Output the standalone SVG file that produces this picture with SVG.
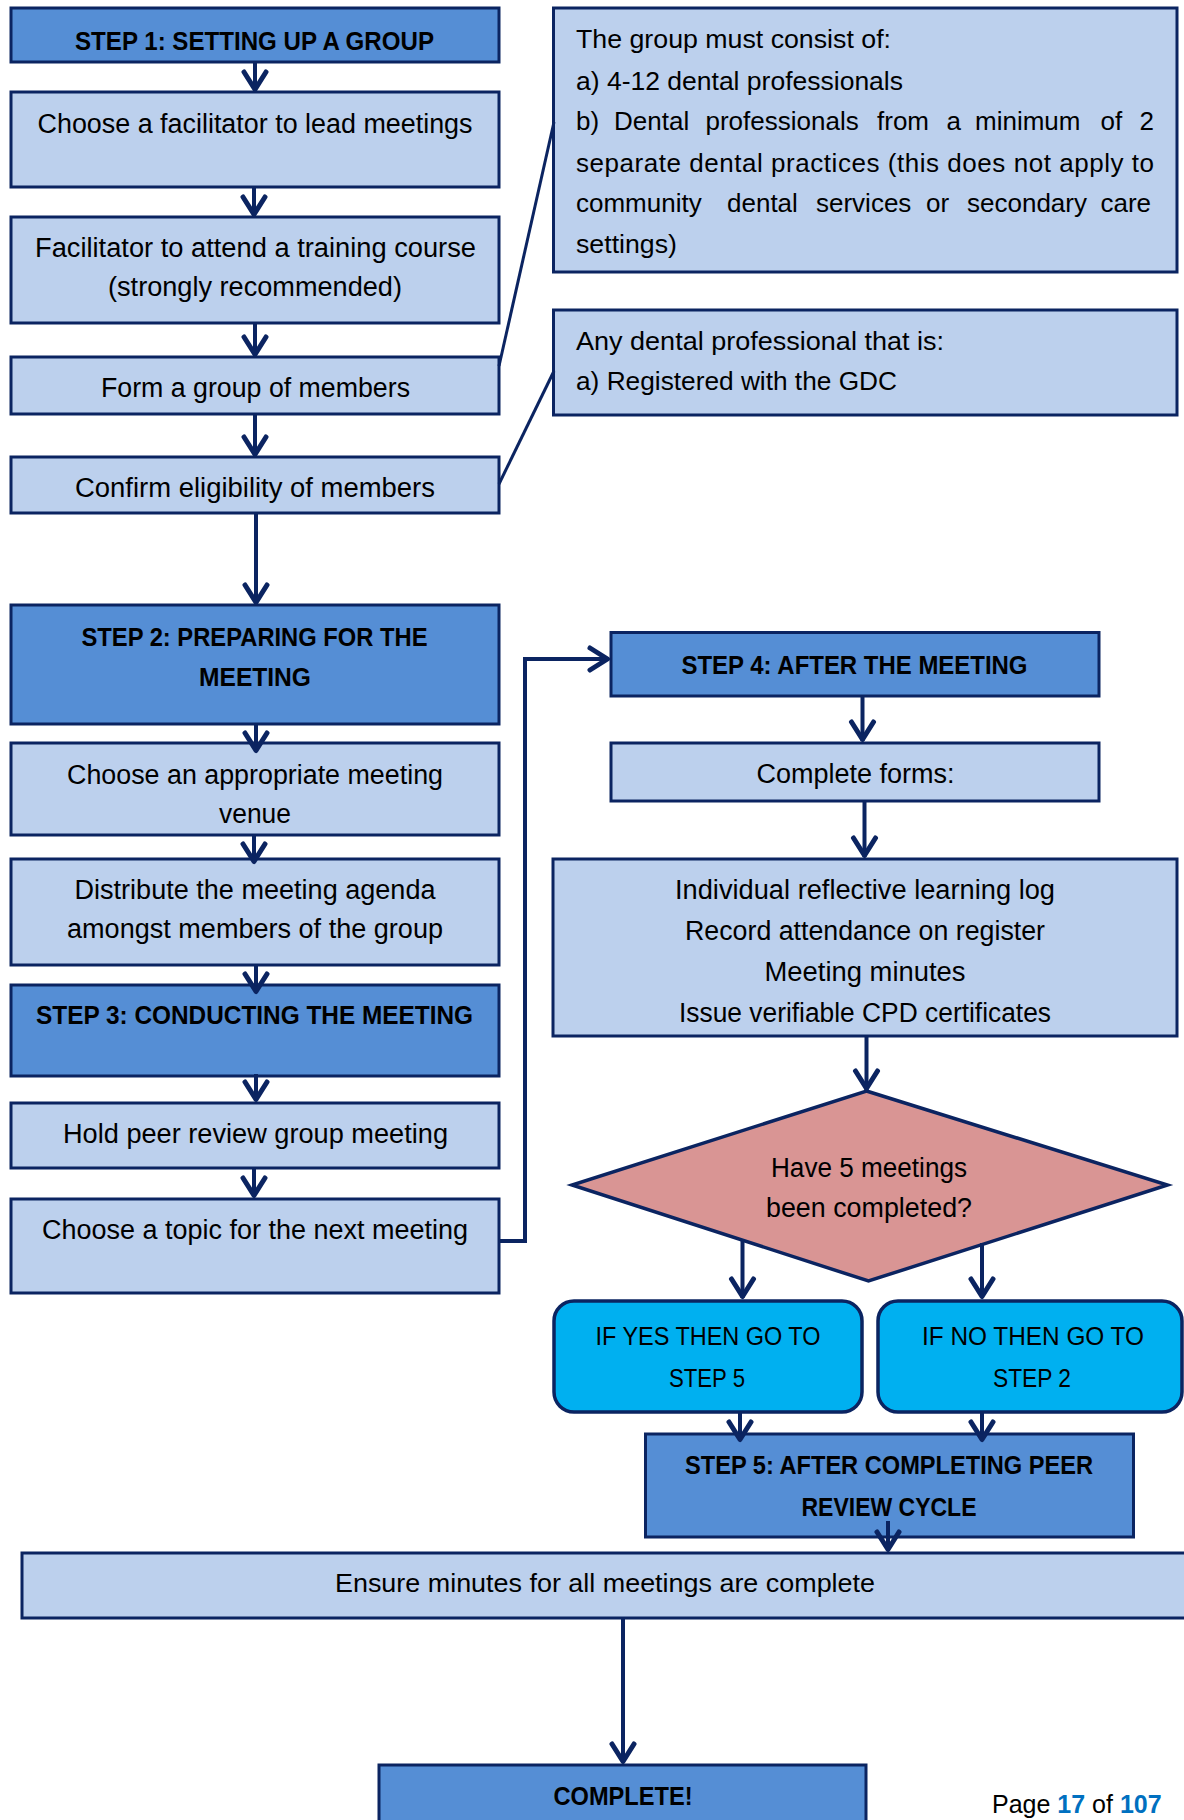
<svg xmlns="http://www.w3.org/2000/svg" width="1184" height="1820" viewBox="0 0 1184 1820">
<style>
.lt{fill:#bcd0ed;stroke:#0b2461;stroke-width:3}
.dk{fill:#558ed5;stroke:#0b2461;stroke-width:3}
.cy{fill:#00b0f0;stroke:#0b2461;stroke-width:3.5}
.dm{fill:#d99594;stroke:#0b2461;stroke-width:3.5}
text{font-family:"Liberation Sans",Arial,sans-serif;fill:#000}
.b{font-size:27px;text-anchor:middle}
.t{font-size:26px;font-weight:bold;text-anchor:middle}
.g{font-size:26px}
.y{font-size:26px;text-anchor:middle}
.c{fill:none;stroke:#0b2461;stroke-width:4}
.n{fill:none;stroke:#0b2461;stroke-width:3}
</style>
<defs>
<marker id="ah" markerUnits="userSpaceOnUse" markerWidth="30" markerHeight="30" viewBox="-25 -15 30 30" refX="0" refY="0" orient="auto">
<path d="M-19,-11 L-1.5,0 L-19,11" fill="none" stroke="#0b2461" stroke-width="5" stroke-linecap="round" stroke-linejoin="round"/>
</marker>
</defs>
<g id="step1"><rect class="dk" x="11" y="8" width="488" height="54"/><text class="t" x="254.5" y="50" textLength="359" lengthAdjust="spacingAndGlyphs">STEP 1: SETTING UP A GROUP</text></g>
<g id="facilitator"><rect class="lt" x="11" y="92" width="488" height="95"/><text class="b" x="255" y="133" textLength="435" lengthAdjust="spacingAndGlyphs">Choose a facilitator to lead meetings</text></g>
<g id="training"><rect class="lt" x="11" y="217" width="488" height="106"/><text class="b" x="255.5" y="257" textLength="441" lengthAdjust="spacingAndGlyphs">Facilitator to attend a training course</text><text class="b" x="255" y="296" textLength="294" lengthAdjust="spacingAndGlyphs">(strongly recommended)</text></g>
<g id="formgroup"><rect class="lt" x="11" y="357" width="488" height="57"/><text class="b" x="255.5" y="397" textLength="309" lengthAdjust="spacingAndGlyphs">Form a group of members</text></g>
<g id="confirm"><rect class="lt" x="11" y="457" width="488" height="56"/><text class="b" x="255" y="497" textLength="360" lengthAdjust="spacingAndGlyphs">Confirm eligibility of members</text></g>
<g id="groupinfo"><rect class="lt" x="553.5" y="8" width="623.5" height="264"/>
<text class="g" x="576" y="48" textLength="315" lengthAdjust="spacingAndGlyphs">The group must consist of:</text>
<text class="g" x="576" y="90" textLength="327" lengthAdjust="spacingAndGlyphs">a) 4-12 dental professionals</text>
<text class="g" y="130"><tspan x="576">b)</tspan><tspan x="614">Dental</tspan><tspan x="705.5">professionals</tspan><tspan x="877">from</tspan><tspan x="946.5">a</tspan><tspan x="975">minimum</tspan><tspan x="1100.5">of</tspan><tspan x="1139.5">2</tspan></text>
<text class="g" x="576" y="172" textLength="578" lengthAdjust="spacing">separate dental practices (this does not apply to</text>
<text class="g" y="212"><tspan x="576">community</tspan><tspan x="727">dental</tspan><tspan x="816">services</tspan><tspan x="926">or</tspan><tspan x="967">secondary</tspan><tspan x="1100.5">care</tspan></text>
<text class="g" x="576" y="253" textLength="101" lengthAdjust="spacingAndGlyphs">settings)</text></g>
<g id="eligibility"><rect class="lt" x="553.5" y="310" width="623.5" height="105"/>
<text class="g" x="576" y="350" textLength="368" lengthAdjust="spacingAndGlyphs">Any dental professional that is:</text>
<text class="g" x="576" y="390" textLength="321" lengthAdjust="spacingAndGlyphs">a) Registered with the GDC</text></g>
<g id="step2"><rect class="dk" x="11" y="605" width="488" height="119"/><text class="t" x="254.5" y="646" textLength="346" lengthAdjust="spacingAndGlyphs">STEP 2: PREPARING FOR THE</text><text class="t" x="255" y="686" textLength="112" lengthAdjust="spacingAndGlyphs">MEETING</text></g>
<g id="venue"><rect class="lt" x="11" y="743" width="488" height="92"/><text class="b" x="255" y="784" textLength="376" lengthAdjust="spacingAndGlyphs">Choose an appropriate meeting</text><text class="b" x="255" y="823" textLength="72" lengthAdjust="spacingAndGlyphs">venue</text></g>
<g id="distribute"><rect class="lt" x="11" y="859" width="488" height="106"/><text class="b" x="255" y="899" textLength="361" lengthAdjust="spacingAndGlyphs">Distribute the meeting agenda</text><text class="b" x="255" y="938" textLength="376" lengthAdjust="spacingAndGlyphs">amongst members of the group</text></g>
<g id="step3"><rect class="dk" x="11" y="985" width="488" height="91"/><text class="t" x="254.5" y="1024" textLength="437" lengthAdjust="spacingAndGlyphs">STEP 3: CONDUCTING THE MEETING</text></g>
<g id="hold"><rect class="lt" x="11" y="1103" width="488" height="65"/><text class="b" x="255.5" y="1143" textLength="385" lengthAdjust="spacingAndGlyphs">Hold peer review group meeting</text></g>
<g id="topic"><rect class="lt" x="11" y="1199" width="488" height="94"/><text class="b" x="255" y="1239" textLength="426" lengthAdjust="spacingAndGlyphs">Choose a topic for the next meeting</text></g>
<g id="step4"><rect class="dk" x="611" y="632.5" width="488" height="63.5"/><text class="t" x="854.5" y="674" textLength="346" lengthAdjust="spacingAndGlyphs">STEP 4: AFTER THE MEETING</text></g>
<g id="forms"><rect class="lt" x="611" y="743" width="488" height="58"/><text class="b" x="855.5" y="783" textLength="198" lengthAdjust="spacingAndGlyphs">Complete forms:</text></g>
<g id="formlist"><rect class="lt" x="553" y="859" width="624" height="177"/>
<text class="b" x="865" y="899" textLength="380" lengthAdjust="spacingAndGlyphs">Individual reflective learning log</text>
<text class="b" x="865" y="940" textLength="360" lengthAdjust="spacingAndGlyphs">Record attendance on register</text>
<text class="b" x="865" y="981" textLength="201" lengthAdjust="spacingAndGlyphs">Meeting minutes</text>
<text class="b" x="865" y="1022" textLength="372" lengthAdjust="spacingAndGlyphs">Issue verifiable CPD certificates</text></g>
<g id="decision"><polygon class="dm" points="866.5,1091 1167.5,1185 868.5,1281 572,1185"/>
<text class="b" x="869" y="1177" textLength="196" lengthAdjust="spacingAndGlyphs">Have 5 meetings</text>
<text class="b" x="869" y="1217" textLength="206" lengthAdjust="spacingAndGlyphs">been completed?</text></g>
<g id="yes"><rect class="cy" x="554" y="1301" width="308" height="111" rx="20"/><text class="y" x="708" y="1345" textLength="225" lengthAdjust="spacingAndGlyphs">IF YES THEN GO TO</text><text class="y" x="707" y="1387" textLength="76" lengthAdjust="spacingAndGlyphs">STEP 5</text></g>
<g id="no"><rect class="cy" x="878" y="1301" width="304" height="111" rx="20"/><text class="y" x="1033" y="1345" textLength="222" lengthAdjust="spacingAndGlyphs">IF NO THEN GO TO</text><text class="y" x="1032" y="1387" textLength="78" lengthAdjust="spacingAndGlyphs">STEP 2</text></g>
<g id="step5"><rect class="dk" x="645.5" y="1434" width="488" height="103"/><text class="t" x="889" y="1474" textLength="408" lengthAdjust="spacingAndGlyphs">STEP 5: AFTER COMPLETING PEER</text><text class="t" x="889" y="1516" textLength="175" lengthAdjust="spacingAndGlyphs">REVIEW CYCLE</text></g>
<g id="ensure"><rect class="lt" x="22" y="1553" width="1175" height="65"/><text class="b" x="605" y="1592" textLength="540" lengthAdjust="spacingAndGlyphs" style="font-size:25px">Ensure minutes for all meetings are complete</text></g>
<g id="complete"><rect class="dk" x="379" y="1765" width="487" height="70"/><text class="t" x="623" y="1805" textLength="139" lengthAdjust="spacingAndGlyphs">COMPLETE!</text></g>
<g id="connectors">
<line class="c" x1="255" y1="62" x2="255" y2="91" marker-end="url(#ah)"/>
<line class="c" x1="254" y1="187" x2="254" y2="216" marker-end="url(#ah)"/>
<line class="c" x1="255" y1="323" x2="255" y2="356" marker-end="url(#ah)"/>
<line class="c" x1="255" y1="414" x2="255" y2="456" marker-end="url(#ah)"/>
<line class="c" x1="256" y1="513" x2="256" y2="604" marker-end="url(#ah)"/>
<line class="c" x1="256" y1="724" x2="256" y2="752" marker-end="url(#ah)"/>
<line class="c" x1="254" y1="835" x2="254" y2="863" marker-end="url(#ah)"/>
<line class="c" x1="256" y1="965" x2="256" y2="993" marker-end="url(#ah)"/>
<line class="c" x1="256" y1="1074" x2="256" y2="1101" marker-end="url(#ah)"/>
<line class="c" x1="254" y1="1168" x2="254" y2="1197" marker-end="url(#ah)"/>
<line class="n" x1="499" y1="366" x2="554" y2="122"/>
<line class="n" x1="499" y1="484" x2="554" y2="371"/>
<polyline class="c" points="499,1241 525,1241 525,659 609,659" marker-end="url(#ah)"/>
<line class="c" x1="862.5" y1="696" x2="862.5" y2="741" marker-end="url(#ah)"/>
<line class="c" x1="864.5" y1="801" x2="864.5" y2="857" marker-end="url(#ah)"/>
<line class="c" x1="866.5" y1="1036" x2="866.5" y2="1090" marker-end="url(#ah)"/>
<line class="c" x1="742.5" y1="1241" x2="742.5" y2="1298" marker-end="url(#ah)"/>
<line class="c" x1="982" y1="1243" x2="982" y2="1298" marker-end="url(#ah)"/>
<line class="c" x1="740" y1="1412" x2="740" y2="1441" marker-end="url(#ah)"/>
<line class="c" x1="982" y1="1412" x2="982" y2="1441" marker-end="url(#ah)"/>
<line class="c" x1="888" y1="1521" x2="888" y2="1551" marker-end="url(#ah)"/>
<line class="c" x1="623" y1="1618" x2="623" y2="1763" marker-end="url(#ah)"/>
</g>
<text x="992" y="1813" style="font-size:25px">Page <tspan style="fill:#0070c0;font-weight:bold">17</tspan> of <tspan style="fill:#0070c0;font-weight:bold">107</tspan></text>
</svg>
